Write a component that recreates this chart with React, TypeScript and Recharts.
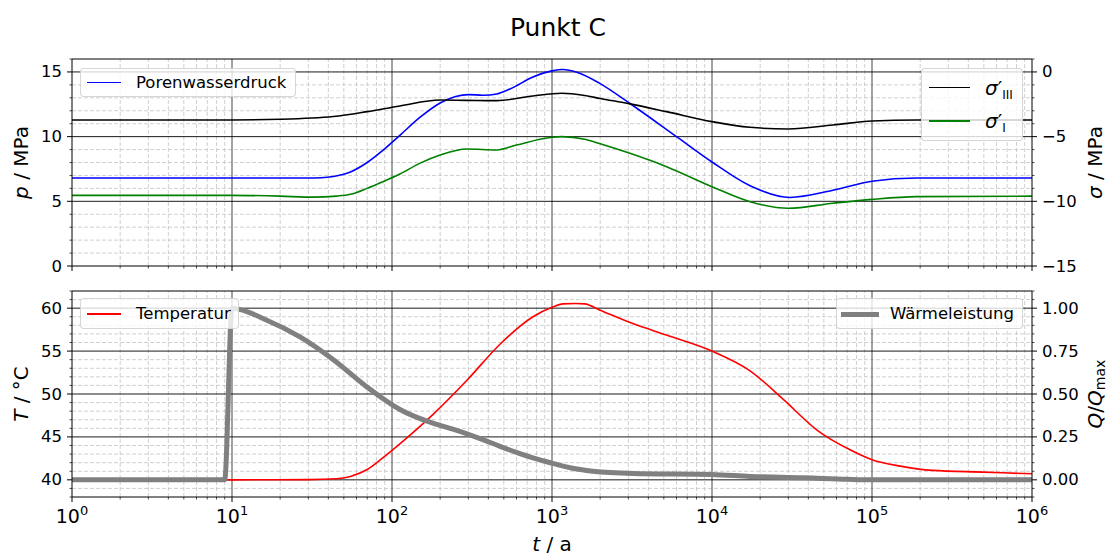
import React from "react";
import { LineChart, Line, XAxis, YAxis, ReferenceLine, Label } from "recharts";

const FONT = "'DejaVu Sans', sans-serif";
const W = 1116;

// time axis t / a (log)
const tMajor = [1, 10, 100, 1000, 10000, 100000, 1000000];
const tMinor = tMajor.slice(0, -1).flatMap((d) => [2, 3, 4, 5, 6, 7, 8, 9].map((k) => k * d));
const tTicks = [...tMajor, ...tMinor].sort((a, b) => a - b);

// y ticks
const pTicks = Array.from({ length: 17 }, (_, i) => i);
const pMajor = [0, 5, 10, 15];
const sigmaTicks = Array.from({ length: 17 }, (_, i) => i - 15);
const sigmaMajor = [-15, -10, -5, 0];
const tempTicks = Array.from({ length: 25 }, (_, i) => 38 + i);
const tempMajor = [40, 45, 50, 55, 60];
const qTicks = Array.from({ length: 25 }, (_, i) => Math.round((i * 0.05 - 0.1) * 100) / 100);
const qMajor = [0, 0.25, 0.5, 0.75, 1];

// Porenwasserdruck p / MPa
const porenTime = [1, 10, 30, 36, 43, 55, 70, 88, 112, 150, 200, 250, 300, 370, 453, 550, 760, 1000, 1170, 1430, 2000, 3070, 6030, 10000, 17300, 30700, 57000, 100000, 190000, 1000000];
const porenDruck = [6.8, 6.8, 6.8, 6.82, 6.92, 7.27, 8.0, 8.95, 10.1, 11.5, 12.6, 13.1, 13.25, 13.2, 13.3, 13.7, 14.6, 15.08, 15.19, 14.98, 14.1, 12.56, 9.98, 8.04, 6.2, 5.3, 5.85, 6.55, 6.8, 6.8];

// sigma'_III / MPa
const sigma3Time = [1, 10, 20, 43, 70, 112, 200, 294, 453, 760, 1150, 1600, 2000, 3070, 5200, 10000, 17300, 30000, 57000, 100000, 190000, 1000000];
const sigma3 = [-3.71, -3.71, -3.66, -3.45, -3.07, -2.63, -2.17, -2.2, -2.22, -1.86, -1.65, -1.82, -2.05, -2.47, -3.07, -3.84, -4.28, -4.41, -4.1, -3.79, -3.71, -3.71];

// sigma'_I / MPa
const sigma1Time = [1, 10, 20, 32, 45, 55, 70, 88, 112, 150, 200, 294, 453, 600, 1000, 1150, 1600, 2000, 3070, 5200, 10000, 17300, 30000, 57000, 100000, 190000, 1000000];
const sigma1 = [-9.54, -9.54, -9.6, -9.68, -9.6, -9.46, -9.0, -8.48, -7.89, -7.05, -6.42, -5.96, -6.03, -5.65, -5.05, -5.0, -5.2, -5.55, -6.29, -7.32, -8.87, -10.03, -10.54, -10.15, -9.85, -9.64, -9.6];

// Temperatur T / °C
const tempTime = [9, 10, 30, 45, 55, 70, 88, 112, 180, 294, 473, 761, 1000, 1170, 1400, 1600, 2000, 3200, 5200, 10000, 17300, 27800, 45300, 72900, 100000, 150000, 240000, 494000, 1000000];
const temperatur = [40, 40, 40.02, 40.12, 40.4, 41.2, 42.6, 44.2, 47.6, 51.6, 55.8, 59.0, 60.1, 60.5, 60.55, 60.5, 59.76, 58.2, 56.86, 55.0, 52.7, 49.4, 45.8, 43.5, 42.35, 41.6, 41.1, 40.9, 40.7];

// Wärmeleistung Q / Qmax
const waermeTime = [1, 9, 10, 16.5, 26.6, 43, 70, 112, 180, 240, 294, 380, 473, 600, 761, 1000, 1300, 1800, 3200, 10000, 17300, 37600, 70000, 100000, 1000000];
const waerme = [0, 0, 1.0, 0.93, 0.833, 0.7, 0.54, 0.41, 0.33, 0.295, 0.268, 0.23, 0.195, 0.16, 0.128, 0.097, 0.07, 0.05, 0.037, 0.031, 0.02, 0.012, 0.003, 0, 0];

const toRows = (ts: number[], vs: number[]) => ts.map((t, i) => ({ t, v: vs[i] }));

const minus = (s: string) => s.replace("-", "\u2212");
const isIn = (arr: number[], v: number) => arr.some((m) => Math.abs(m - v) < 1e-6);

const makeYTick = (side: "left" | "right", majors: number[], fmt: (v: number) => string) => (props: any) => {
  const { x, y, payload } = props;
  const v = payload.value;
  const major = isIn(majors, v);
  const len = major ? 5 : 2.5;
  const dir = side === "left" ? -1 : 1;
  return (
    <g>
      <line x1={x} x2={x + dir * len} y1={y} y2={y} stroke="#000" strokeWidth={major ? 1 : 0.7} />
      {major && (
        <text
          x={x + dir * 10}
          y={y}
          textAnchor={side === "left" ? "end" : "start"}
          dominantBaseline="central"
          fontSize={16.5}
          fontFamily={FONT}
          fill="#000"
        >
          {fmt(v)}
        </text>
      )}
    </g>
  );
};

const makeXTick = (showLabel: boolean) => (props: any) => {
  const { x, y, payload } = props;
  const e = Math.log10(payload.value);
  const major = Math.abs(e - Math.round(e)) < 1e-6;
  return (
    <g>
      <line x1={x} x2={x} y1={y} y2={y + (major ? 5 : 2.5)} stroke="#000" strokeWidth={major ? 1 : 0.7} />
      {showLabel && major && (
        <text x={x} y={y + 26} textAnchor="middle" fontSize={19} fontFamily={FONT} fill="#000">
          10
          <tspan dy={-8} fontSize={13}>
            {Math.round(e)}
          </tspan>
        </text>
      )}
    </g>
  );
};

const yLabel = (dx: number, content: React.ReactNode) => (props: any) => {
  const vb = props.viewBox ?? { x: 0, y: 0, width: 0, height: 0 };
  const cx = vb.x + dx;
  const cy = vb.y + vb.height / 2;
  return (
    <text
      x={cx}
      y={cy}
      transform={`rotate(-90 ${cx} ${cy})`}
      textAnchor="middle"
      dominantBaseline="central"
      fontSize={20}
      fontFamily={FONT}
      fill="#000"
    >
      {content}
    </text>
  );
};

const xLabel = (props: any) => {
  const vb = props.viewBox ?? { x: 0, y: 0, width: 0, height: 0 };
  return (
    <text x={vb.x + vb.width / 2} y={vb.y + 54} textAnchor="middle" fontSize={20} fontFamily={FONT} fill="#000">
      <tspan fontStyle="italic">t</tspan> / a
    </text>
  );
};

const gridLines = (yId: string, yTicks: number[], yMajor: number[], yMin: number, yMax: number) => [
  ...tMinor.map((v) => (
    <ReferenceLine key={`vx-${v}`} x={v} yAxisId={yId} stroke="#c4c4c4" strokeWidth={0.8} strokeDasharray="4 2" />
  )),
  ...yTicks
    .filter((v) => !isIn(yMajor, v) && v !== yMin && v !== yMax)
    .map((v) => (
      <ReferenceLine key={`hy-${v}`} y={v} yAxisId={yId} stroke="#c4c4c4" strokeWidth={0.8} strokeDasharray="4 2" />
    )),
  ...tMajor.slice(1, -1).map((v) => (
    <ReferenceLine key={`VX-${v}`} x={v} yAxisId={yId} stroke="#707070" strokeWidth={1.3} />
  )),
  ...yMajor
    .filter((v) => v !== yMin)
    .map((v) => <ReferenceLine key={`HY-${v}`} y={v} yAxisId={yId} stroke="#000" strokeWidth={0.9} />),
];

const spines = (yId: string, yMin: number, yMax: number) => [
  <ReferenceLine key="s-b" y={yMin} yAxisId={yId} stroke="#000" strokeWidth={1} />,
  <ReferenceLine key="s-t" y={yMax} yAxisId={yId} stroke="#000" strokeWidth={1} />,
  <ReferenceLine key="s-l" x={1} yAxisId={yId} stroke="#000" strokeWidth={1} />,
  <ReferenceLine key="s-r" x={1000000} yAxisId={yId} stroke="#000" strokeWidth={1} />,
];

const legendBox: React.CSSProperties = {
  position: "absolute",
  background: "rgba(255,255,255,0.8)",
  border: "1px solid rgba(204,204,204,0.8)",
  borderRadius: 4,
  fontFamily: FONT,
  fontSize: 16.5,
  color: "#000",
  boxSizing: "border-box",
};

const LegendItem = ({ x, y, len, color, thick, textX, children }: any) => (
  <>
    <div style={{ position: "absolute", left: x, top: y - thick / 2, width: len, height: thick, background: color }} />
    <div style={{ position: "absolute", left: textX, top: y - 12, height: 24, lineHeight: "24px", whiteSpace: "nowrap" }}>
      {children}
    </div>
  </>
);

const Sigma = ({ sub }: { sub: string }) => (
  <span style={{ fontSize: 20 }}>
    <span style={{ fontStyle: "italic" }}>σ</span>′
    <span style={{ fontSize: 12, position: "relative", top: 4 }}>{sub}</span>
  </span>
);

export default function App() {
  const line = { dot: false, activeDot: false, isAnimationActive: false, type: "monotone" as const, dataKey: "v" };
  return (
    <div style={{ position: "absolute", left: 0, top: 0, width: W, height: 556, background: "#fff", fontFamily: FONT }}>
      <div style={{ position: "absolute", left: 0, top: 13, width: W, textAlign: "center", fontSize: 25, lineHeight: "30px" }}>
        Punkt C
      </div>

      <div style={{ position: "absolute", left: 0, top: 0 }}>
        <LineChart width={W} height={285} margin={{ top: 59, right: 24, bottom: 0, left: 12 }}>
          <XAxis
            dataKey="t"
            type="number"
            scale="log"
            domain={[1, 1000000]}
            allowDataOverflow
            ticks={tTicks}
            interval={0}
            height={19}
            axisLine={false}
            tickLine={false}
            tickSize={0}
            tickMargin={0}
            tick={makeXTick(false)}
          />
          <YAxis
            yAxisId="p"
            orientation="left"
            width={60}
            domain={[0, 16]}
            allowDataOverflow
            ticks={pTicks}
            interval={0}
            axisLine={false}
            tickLine={false}
            tickSize={0}
            tickMargin={0}
            tick={makeYTick("left", pMajor, (v) => String(v))}
          >
            <Label
              content={yLabel(9, (
                <>
                  <tspan fontStyle="italic">p</tspan> / MPa
                </>
              ))}
            />
          </YAxis>
          <YAxis
            yAxisId="s"
            orientation="right"
            width={60}
            domain={[-15, 1]}
            allowDataOverflow
            ticks={sigmaTicks}
            interval={0}
            axisLine={false}
            tickLine={false}
            tickSize={0}
            tickMargin={0}
            tick={makeYTick("right", sigmaMajor, (v) => minus(String(v)))}
          >
            <Label
              content={yLabel(63, (
                <>
                  <tspan fontStyle="italic">σ</tspan> / MPa
                </>
              ))}
            />
          </YAxis>
          {gridLines("p", pTicks, pMajor, 0, 16)}
          <Line {...line} yAxisId="p" data={toRows(porenTime, porenDruck)} stroke="#0000ff" strokeWidth={1.6} />
          <Line {...line} yAxisId="s" data={toRows(sigma3Time, sigma3)} stroke="#000000" strokeWidth={1.6} />
          <Line {...line} yAxisId="s" data={toRows(sigma1Time, sigma1)} stroke="#008000" strokeWidth={1.6} />
          {spines("p", 0, 16)}
        </LineChart>
      </div>

      <div style={{ position: "absolute", left: 0, top: 280 }}>
        <LineChart width={W} height={276} margin={{ top: 11, right: 24, bottom: 0, left: 12 }}>
          <XAxis
            dataKey="t"
            type="number"
            scale="log"
            domain={[1, 1000000]}
            allowDataOverflow
            ticks={tTicks}
            interval={0}
            height={59}
            axisLine={false}
            tickLine={false}
            tickSize={0}
            tickMargin={0}
            tick={makeXTick(true)}
          >
            <Label content={xLabel} />
          </XAxis>
          <YAxis
            yAxisId="T"
            orientation="left"
            width={60}
            domain={[38, 62]}
            allowDataOverflow
            ticks={tempTicks}
            interval={0}
            axisLine={false}
            tickLine={false}
            tickSize={0}
            tickMargin={0}
            tick={makeYTick("left", tempMajor, (v) => String(v))}
          >
            <Label
              content={yLabel(9, (
                <>
                  <tspan fontStyle="italic">T</tspan> / °C
                </>
              ))}
            />
          </YAxis>
          <YAxis
            yAxisId="q"
            orientation="right"
            width={60}
            domain={[-0.1, 1.1]}
            allowDataOverflow
            ticks={qTicks}
            interval={0}
            axisLine={false}
            tickLine={false}
            tickSize={0}
            tickMargin={0}
            tick={makeYTick("right", qMajor, (v) => minus(v.toFixed(2)))}
          >
            <Label
              content={yLabel(63, (
                <>
                  <tspan fontStyle="italic">Q</tspan>/<tspan fontStyle="italic">Q</tspan>
                  <tspan fontSize={14} dy={5}>max</tspan>
                </>
              ))}
            />
          </YAxis>
          {gridLines("T", tempTicks, tempMajor, 38, 62)}
          <Line {...line} yAxisId="T" data={toRows(tempTime, temperatur)} stroke="#ff0000" strokeWidth={1.6} />
          <Line {...line} yAxisId="q" data={toRows(waermeTime, waerme)} stroke="#808080" strokeWidth={5} />
          {spines("T", 38, 62)}
        </LineChart>
      </div>

      <div style={{ ...legendBox, left: 80, top: 68, width: 216, height: 29 }}>
        <LegendItem x={6} y={13.5} len={34} thick={1.6} color="#0000ff" textX={55}>
          Porenwasserdruck
        </LegendItem>
      </div>
      <div style={{ ...legendBox, left: 921, top: 68, width: 102, height: 73 }}>
        <LegendItem x={7} y={18.5} len={41} thick={1.6} color="#000000" textX={63}>
          <Sigma sub="III" />
        </LegendItem>
        <LegendItem x={7} y={52} len={41} thick={1.6} color="#008000" textX={63}>
          <Sigma sub="I" />
        </LegendItem>
      </div>
      <div style={{ ...legendBox, left: 80, top: 298, width: 159, height: 31 }}>
        <LegendItem x={6} y={15} len={34} thick={1.6} color="#ff0000" textX={55}>
          Temperatur
        </LegendItem>
      </div>
      <div style={{ ...legendBox, left: 836, top: 298, width: 187, height: 31 }}>
        <LegendItem x={4} y={15} len={38} thick={5} color="#808080" textX={53}>
          Wärmeleistung
        </LegendItem>
      </div>
    </div>
  );
}
